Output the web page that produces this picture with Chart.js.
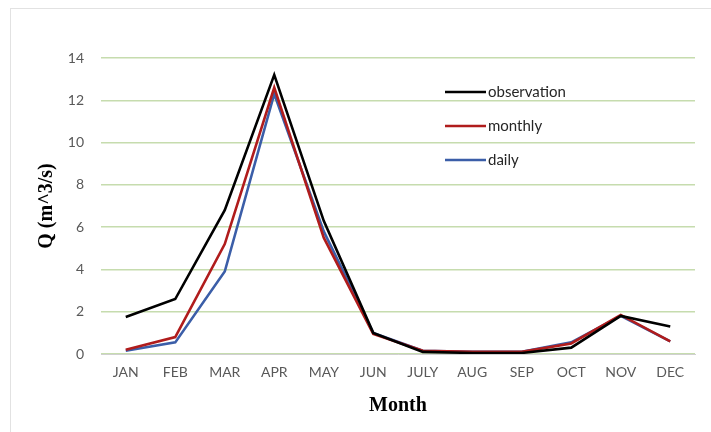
<!DOCTYPE html>
<html>
<head>
<meta charset="utf-8">
<script src="https://cdn.jsdelivr.net/npm/chart.js@4"></script>
<style>
  html, body { margin: 0; padding: 0; background: #fff; }
  #wrap { position: relative; width: 711px; height: 432px; }
  #frame { position: absolute; left: 10px; top: 8px; width: 710px; height: 430px; border: 1px solid #e2e2e2; box-sizing: border-box; }
  canvas { position: absolute; left: 0; top: 0; }
</style>
</head>
<body>
<div id="wrap">
  <div id="frame"></div>
  <canvas id="chart" width="711" height="432"></canvas>
</div>
<script>
const months = ['JAN', 'FEB', 'MAR', 'APR', 'MAY', 'JUN', 'JULY', 'AUG', 'SEP', 'OCT', 'NOV', 'DEC'];
const observation = [1.75, 2.6, 6.8, 13.2, 6.3, 1.0, 0.1, 0.05, 0.05, 0.3, 1.8, 1.3];
const monthly = [0.2, 0.8, 5.2, 12.6, 5.5, 0.95, 0.15, 0.1, 0.1, 0.5, 1.85, 0.6];
const daily = [0.15, 0.55, 3.9, 12.3, 5.8, 1.0, 0.15, 0.1, 0.1, 0.55, 1.8, 0.6];

const tickFont = { family: 'Lato, "Open Sans", sans-serif', size: 14 };
const titleFont = { family: '"Liberation Serif", "DejaVu Serif", serif', size: 20, weight: 'bold' };

// legend drawn inside the plot area, like the original
const insideLegend = {
  id: 'insideLegend',
  afterDatasetsDraw(chart) {
    const ctx = chart.ctx;
    ctx.save();
    ctx.font = '15px ' + tickFont.family;
    ctx.fillStyle = '#262626';
    ctx.textBaseline = 'middle';
    chart.data.datasets.forEach((ds, i) => {
      const y = 92 + i * 34;
      ctx.strokeStyle = ds.borderColor;
      ctx.lineWidth = 2.5;
      ctx.beginPath();
      ctx.moveTo(445, y);
      ctx.lineTo(486, y);
      ctx.stroke();
      ctx.fillText(ds.label, 488, y);
    });
    ctx.restore();
  }
};

new Chart(document.getElementById('chart'), {
  type: 'line',
  data: {
    labels: months,
    datasets: [
      { label: 'observation', data: observation, borderColor: '#000000', borderWidth: 2.6, pointRadius: 0, tension: 0 },
      { label: 'monthly', data: monthly, borderColor: '#b01c1c', borderWidth: 2.6, pointRadius: 0, tension: 0 },
      { label: 'daily', data: daily, borderColor: '#3b5ea8', borderWidth: 2.6, pointRadius: 0, tension: 0 }
    ]
  },
  options: {
    responsive: false,
    animation: false,
    layout: { padding: { top: 58, right: 16, bottom: 10, left: 31 } },
    plugins: {
      legend: { display: false },
      tooltip: { enabled: false }
    },
    scales: {
      x: {
        offset: true,
        grid: { display: false, drawTicks: false },
        border: { display: true, color: '#d0d0d0', width: 1 },
        ticks: { color: '#595959', font: tickFont, padding: 10, maxRotation: 0 },
        title: { display: true, text: 'Month', color: '#000', font: titleFont, padding: { top: 6 } },
        afterFit(scale) { scale.height = 68; }
      },
      y: {
        min: 0,
        max: 14,
        ticks: { stepSize: 2, color: '#595959', font: tickFont, padding: 17 },
        grid: { color: '#c6dcae', lineWidth: 1.5, drawTicks: false },
        border: { display: false },
        title: { display: true, text: 'Q (m^3/s)', color: '#000', font: titleFont, padding: { bottom: 4 } },
        afterFit(scale) { scale.width = 70; }
      }
    }
  },
  plugins: [insideLegend]
});
</script>
</body>
</html>
